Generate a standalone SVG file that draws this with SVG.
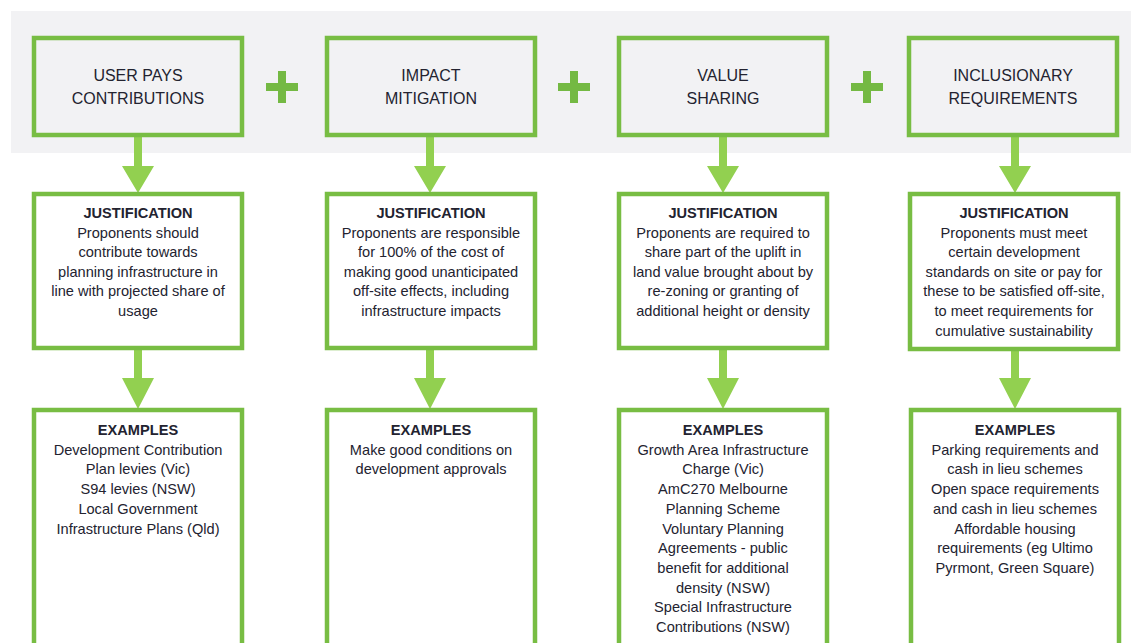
<svg xmlns="http://www.w3.org/2000/svg" width="1131" height="643" viewBox="0 0 1131 643">
<style>
.box{fill:#ffffff;stroke:#78bd43;stroke-width:4.5}
.top{fill:#f2f2f4;stroke:#78bd43;stroke-width:4.5}
.arr{fill:#92d050}
.plus{fill:#74b943}
text{font-family:"Liberation Sans",Arial,sans-serif;fill:#232330;text-anchor:middle}
.h{font-size:16px}
.t{font-size:14.6px}
.b{font-weight:bold}
</style>
<rect x="11" y="11" width="1120" height="142" fill="#f2f2f4"/>
<g id="plus1" class="plus"><rect x="266" y="83" width="32" height="8"/><rect x="278" y="71" width="8" height="32"/></g>
<g id="plus2" class="plus"><rect x="558" y="83" width="32" height="8"/><rect x="570" y="71" width="8" height="32"/></g>
<g id="plus3" class="plus"><rect x="851" y="83" width="32" height="8"/><rect x="863" y="71" width="8" height="32"/></g>
<g id="connectors" class="arr">
<path d="M134 137h8v29h-8z M122 166h32l-16 27z"/>
<path d="M134 350h8v28h-8z M122 378h32l-16 31z"/>
<path d="M426 137h8v29h-8z M414 166h32l-16 27z"/>
<path d="M426 350h8v28h-8z M414 378h32l-16 31z"/>
<path d="M719 137h8v29h-8z M707 166h32l-16 27z"/>
<path d="M719 350h8v28h-8z M707 378h32l-16 31z"/>
<path d="M1011 137h8v29h-8z M999 166h32l-16 27z"/>
<path d="M1011 350h8v28h-8z M999 378h32l-16 31z"/>
</g>
<g id="user-pays">
<rect class="top" x="34" y="38" width="208" height="97"/>
<text class="h" x="138" y="81">USER PAYS</text>
<text class="h" x="138" y="104">CONTRIBUTIONS</text>
</g>
<g id="impact">
<rect class="top" x="327" y="38" width="208" height="97"/>
<text class="h" x="431" y="81">IMPACT</text>
<text class="h" x="431" y="104">MITIGATION</text>
</g>
<g id="value">
<rect class="top" x="619" y="38" width="208" height="97"/>
<text class="h" x="723" y="81">VALUE</text>
<text class="h" x="723" y="104">SHARING</text>
</g>
<g id="inclusionary">
<rect class="top" x="909" y="38" width="208" height="97"/>
<text class="h" x="1013" y="81">INCLUSIONARY</text>
<text class="h" x="1013" y="104">REQUIREMENTS</text>
</g>
<g id="just1">
<rect class="box" x="34" y="194" width="208" height="154"/>
<text class="t" x="138" y="218"><tspan class="b">JUSTIFICATION</tspan><tspan x="138" dy="19.6">Proponents should</tspan><tspan x="138" dy="19.6">contribute towards</tspan><tspan x="138" dy="19.6">planning infrastructure in</tspan><tspan x="138" dy="19.6">line with projected share of</tspan><tspan x="138" dy="19.6">usage</tspan></text>
</g>
<g id="just2">
<rect class="box" x="327" y="194" width="208" height="154"/>
<text class="t" x="431" y="218"><tspan class="b">JUSTIFICATION</tspan><tspan x="431" dy="19.6">Proponents are responsible</tspan><tspan x="431" dy="19.6">for 100% of the cost of</tspan><tspan x="431" dy="19.6">making good unanticipated</tspan><tspan x="431" dy="19.6">off-site effects, including</tspan><tspan x="431" dy="19.6">infrastructure impacts</tspan></text>
</g>
<g id="just3">
<rect class="box" x="619" y="194" width="208" height="154"/>
<text class="t" x="723" y="218"><tspan class="b">JUSTIFICATION</tspan><tspan x="723" dy="19.6">Proponents are required to</tspan><tspan x="723" dy="19.6">share part of the uplift in</tspan><tspan x="723" dy="19.6">land value brought about by</tspan><tspan x="723" dy="19.6">re-zoning or granting of</tspan><tspan x="723" dy="19.6">additional height or density</tspan></text>
</g>
<g id="just4">
<rect class="box" x="910" y="194" width="208" height="155"/>
<text class="t" x="1014" y="218"><tspan class="b">JUSTIFICATION</tspan><tspan x="1014" dy="19.6">Proponents must meet</tspan><tspan x="1014" dy="19.6">certain development</tspan><tspan x="1014" dy="19.6">standards on site or pay for</tspan><tspan x="1014" dy="19.6">these to be satisfied off-site,</tspan><tspan x="1014" dy="19.6">to meet requirements for</tspan><tspan x="1014" dy="19.6">cumulative sustainability</tspan></text>
</g>
<g id="ex1">
<rect class="box" x="34" y="410" width="208" height="260"/>
<text class="t" x="138" y="435"><tspan class="b">EXAMPLES</tspan><tspan x="138" dy="19.7">Development Contribution</tspan><tspan x="138" dy="19.7">Plan levies (Vic)</tspan><tspan x="138" dy="19.7">S94 levies (NSW)</tspan><tspan x="138" dy="19.7">Local Government</tspan><tspan x="138" dy="19.7">Infrastructure Plans (Qld)</tspan></text>
</g>
<g id="ex2">
<rect class="box" x="327" y="410" width="208" height="260"/>
<text class="t" x="431" y="435"><tspan class="b">EXAMPLES</tspan><tspan x="431" dy="19.7">Make good conditions on</tspan><tspan x="431" dy="19.7">development approvals</tspan></text>
</g>
<g id="ex3">
<rect class="box" x="619" y="410" width="208" height="260"/>
<text class="t" x="723" y="435"><tspan class="b">EXAMPLES</tspan><tspan x="723" dy="19.7">Growth Area Infrastructure</tspan><tspan x="723" dy="19.7">Charge (Vic)</tspan><tspan x="723" dy="19.7">AmC270 Melbourne</tspan><tspan x="723" dy="19.7">Planning Scheme</tspan><tspan x="723" dy="19.7">Voluntary Planning</tspan><tspan x="723" dy="19.7">Agreements - public</tspan><tspan x="723" dy="19.7">benefit for additional</tspan><tspan x="723" dy="19.7">density (NSW)</tspan><tspan x="723" dy="19.7">Special Infrastructure</tspan><tspan x="723" dy="19.7">Contributions (NSW)</tspan></text>
</g>
<g id="ex4">
<rect class="box" x="911" y="410" width="208" height="260"/>
<text class="t" x="1015" y="435"><tspan class="b">EXAMPLES</tspan><tspan x="1015" dy="19.7">Parking requirements and</tspan><tspan x="1015" dy="19.7">cash in lieu schemes</tspan><tspan x="1015" dy="19.7">Open space requirements</tspan><tspan x="1015" dy="19.7">and cash in lieu schemes</tspan><tspan x="1015" dy="19.7">Affordable housing</tspan><tspan x="1015" dy="19.7">requirements (eg Ultimo</tspan><tspan x="1015" dy="19.7">Pyrmont, Green Square)</tspan></text>
</g>
</svg>
